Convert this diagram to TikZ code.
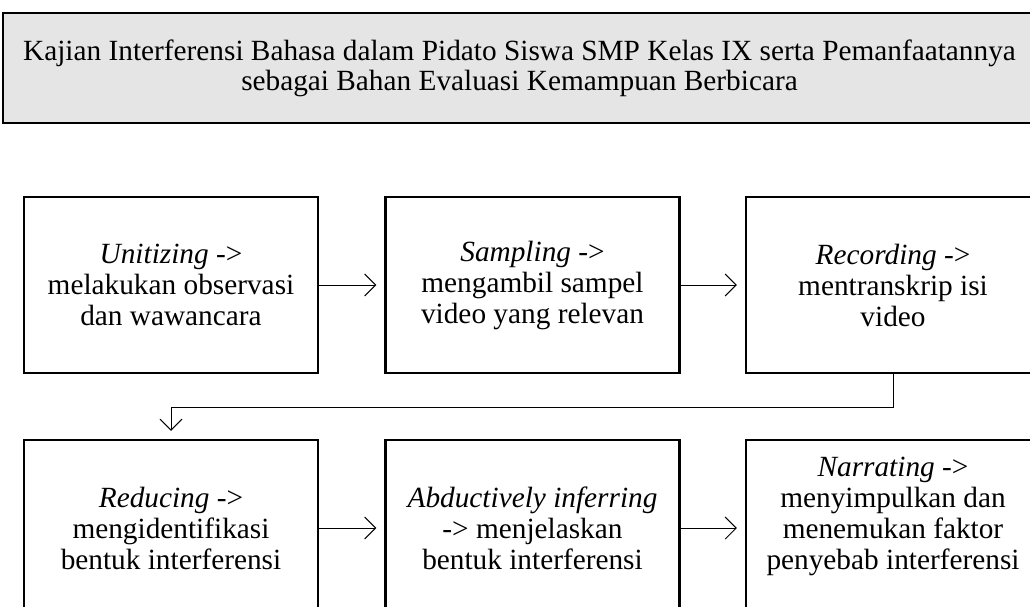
\documentclass[tikz,border=0pt]{standalone}
\usepackage{fontspec}
\setmainfont{Liberation Serif}
\usetikzlibrary{arrows.meta}
\begin{document}
\begin{tikzpicture}[x=1pt,y=-1pt,
  stepbox/.style={draw=black, line width=2.2pt, minimum width=294pt, minimum height=176pt, inner sep=0pt},
  boxtext/.style={align=center, font=\fontsize{29.3}{31}\selectfont},
  conn/.style={line width=1pt, -{Straight Barb[length=11pt,width=22pt,line width=1pt]}, shorten >=8pt}]
\useasboundingbox (0,0) rectangle (1030,607);
\clip (0,0) rectangle (1030,607);
\node[draw=black, line width=2.5pt, fill=black!10, minimum width=1033pt, minimum height=110pt, inner sep=0pt] (title) at (519.5,68) {};
\node[boxtext, font=\fontsize{29.3}{30}\selectfont] (titletext) at (519.5,68) {Kajian Interferensi Bahasa dalam Pidato Siswa SMP Kelas IX serta Pemanfaatannya\\sebagai Bahan Evaluasi Kemampuan Berbicara};
\node[stepbox] (b1) at (171,285) {};
\node[stepbox] (b2) at (532.5,285) {};
\node[stepbox] (b3) at (893,285) {};
\node[stepbox] (b4) at (171,528) {};
\node[stepbox] (b5) at (532.5,528) {};
\node[stepbox] (b6) at (893,528) {};
\node[boxtext] (t1) at (b1) {\textit{Unitizing} ->\\melakukan observasi\\dan wawancara};
\node[boxtext] (t2) at (b2) {\textit{Sampling} ->\\mengambil sampel\\video yang relevan};
\node[boxtext] (t3) at (b3) {\textit{Recording} ->\\mentranskrip isi\\video};
\node[boxtext] (t4) at (b4) {\textit{Reducing} ->\\mengidentifikasi\\bentuk interferensi};
\node[boxtext] (t5) at (b5) {\textit{Abductively inferring}\\-> menjelaskan\\bentuk interferensi};
\node[boxtext] (t6) at (893,516) {\textit{Narrating} ->\\menyimpulkan dan\\menemukan faktor\\penyebab interferensi};
\coordinate (c1) at (893,407);
\coordinate (c2) at (171,407);
\draw[conn] (b1.east) -- (b2.west);
\draw[conn] (b2.east) -- (b3.west);
\draw[conn] (b3.south) -- (c1) -- (c2) -- (b4.north);
\draw[conn] (b4.east) -- (b5.west);
\draw[conn] (b5.east) -- (b6.west);
\end{tikzpicture}
\end{document}
